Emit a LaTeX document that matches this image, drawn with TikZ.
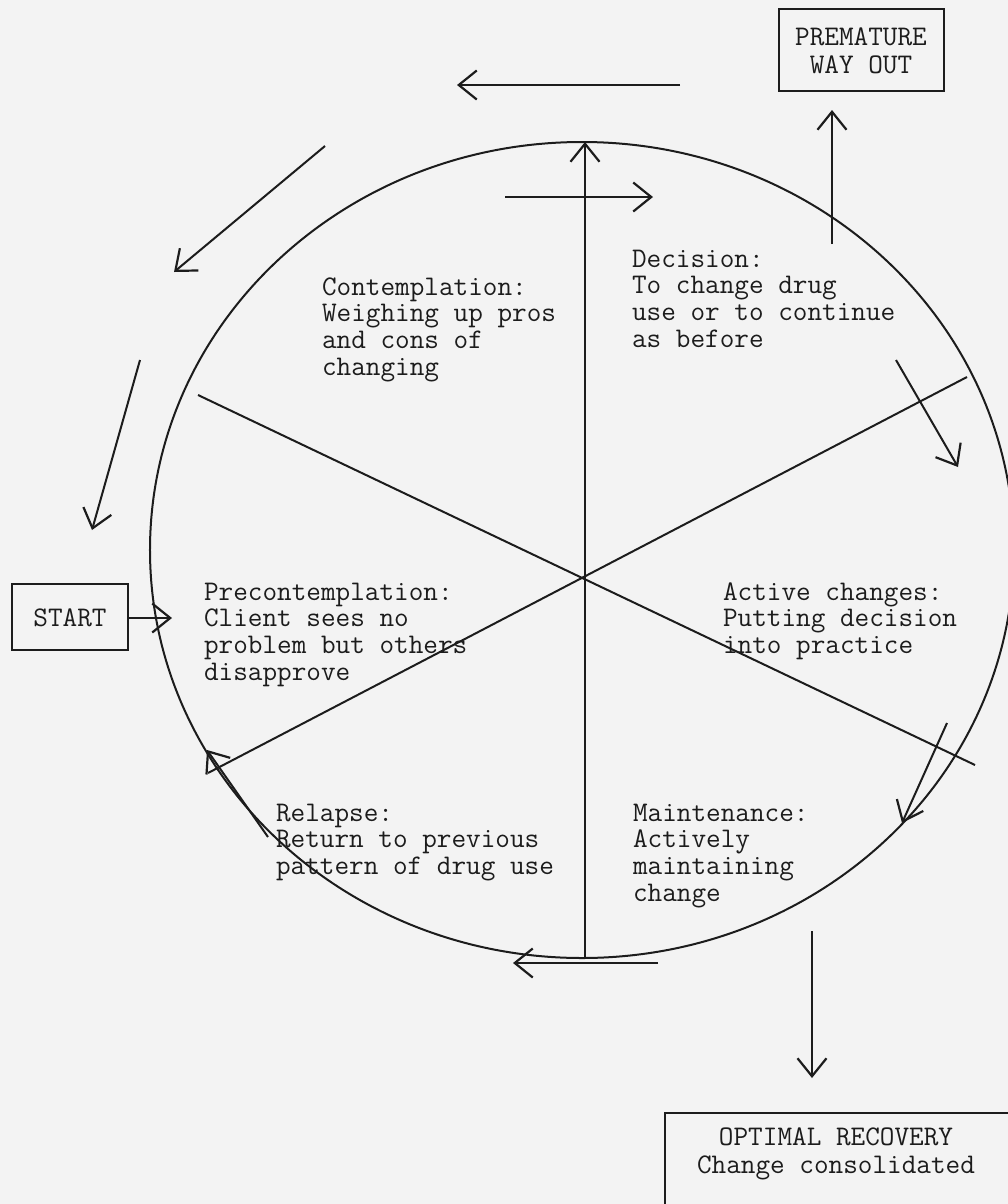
\documentclass[tikz,border=0pt]{standalone}
\usepackage{fontspec}
\usetikzlibrary{arrows.meta}
\definecolor{paper}{RGB}{243,243,243}
\definecolor{ink}{RGB}{28,28,28}
\begin{document}
\begin{tikzpicture}[x=1bp,y=-1bp,
  line width=2bp, draw=ink,
  arr/.style={-{Straight Barb[length=18bp,width=29bp,line width=2.2bp]}},
  % anchored at the baseline of the last line of each block
  stagetext/.style={font=\ttfamily\fontsize{28.4bp}{26.8bp}\selectfont, text=ink,
    align=left, anchor=base west, inner sep=0pt},
  boxtext/.style={font=\ttfamily\fontsize{28.4bp}{27.5bp}\selectfont, text=ink,
    align=center, inner sep=0pt},
  frame/.style={draw=ink, line width=2bp}]

% page
\useasboundingbox (0,0) rectangle (1008,1204);
\fill[paper] (0,0) rectangle (1008,1204);
\clip (0,0) rectangle (1008,1204);

% the wheel and its six sectors
\coordinate (hub) at (585,578);
\coordinate (top) at (585,142);
\coordinate (bottom) at (585,957);
\coordinate (ul) at (198,395);
\coordinate (lr) at (975,765);
\coordinate (ur) at (967,377);
\coordinate (ll) at (208,773);
\draw (582,550) ellipse [x radius=432bp, y radius=408bp];
\draw[arr] (bottom) -- (top);
\draw (ul) -- (lr);
\draw (ur) -- (ll);

% stage descriptions
\node[stagetext] (contemplation) at (321,375.4)
  {Contemplation:\\Weighing up pros\\and cons of\\changing};
\node[stagetext] (decision) at (631,347.4)
  {Decision:\\To change drug\\use or to continue\\as before};
\node[stagetext] (precontemplation) at (203,680.4)
  {Precontemplation:\\Client sees no\\problem but others\\disapprove};
\node[stagetext] (active) at (722,653.6)
  {Active changes:\\Putting decision\\into practice};
\node[stagetext] (relapse) at (275,874.6)
  {Relapse:\\Return to previous\\pattern of drug use};
\node[stagetext] (maintenance) at (632,901.4)
  {Maintenance:\\Actively\\maintaining\\change};

% boxes
\draw[frame] (779,9) rectangle (944,91);
\node[boxtext] (premature) at (861,51) {PREMATURE\\WAY OUT};
\draw[frame] (12,584) rectangle (128,650);
\node[boxtext] (start) at (70,618) {START};
\draw[frame] (665,1113) rectangle (1030,1230);
\node[boxtext] (optimal) at (836,1154) {OPTIMAL RECOVERY\\Change consolidated};

% arrows around the wheel
\coordinate (a1s) at (680,85);   \coordinate (a1e) at (457,85);
\coordinate (a2s) at (505,197);  \coordinate (a2e) at (653,197);
\coordinate (a3s) at (832,244);  \coordinate (a3e) at (832,110);
\coordinate (a4s) at (325,146);  \coordinate (a4e) at (174,272);
\coordinate (a5s) at (140,360);  \coordinate (a5e) at (92,530);
\coordinate (a6s) at (128,618);  \coordinate (a6e) at (172,618);
\coordinate (a7s) at (268,837);  \coordinate (a7e) at (207,750);
\coordinate (a8s) at (896,360);  \coordinate (a8e) at (958,467);
\coordinate (a9s) at (947,723);  \coordinate (a9e) at (902,823);
\coordinate (a10s) at (658,963); \coordinate (a10e) at (513,963);
\coordinate (a11s) at (812,931); \coordinate (a11e) at (812,1078);
\foreach \n in {1,...,11} \draw[arr] (a\n s) -- (a\n e);
\end{tikzpicture}
\end{document}
